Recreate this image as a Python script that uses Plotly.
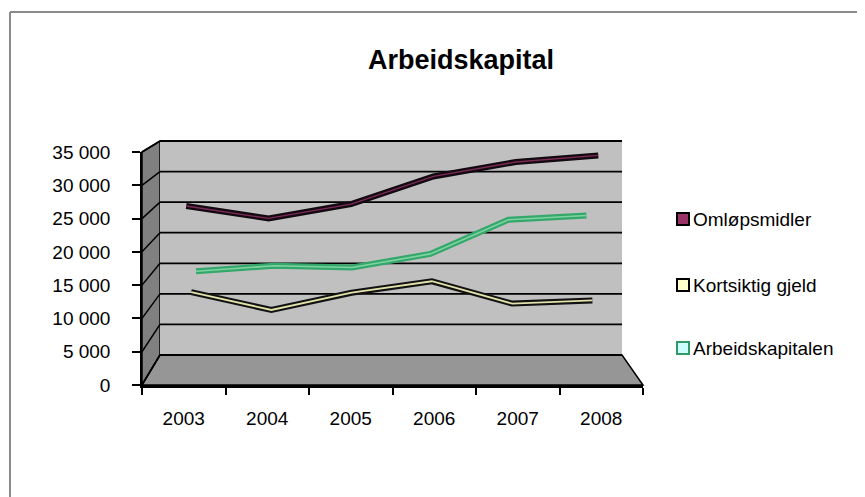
import plotly.graph_objects as go

# ---------------- data ----------------
years = ["2003", "2004", "2005", "2006", "2007", "2008"]
omlopsmidler = [26500, 24600, 26800, 31000, 33200, 34200]
kortsiktig_gjeld = [12200, 9400, 12100, 13900, 10400, 10900]
arbeidskapitalen = [14300, 15200, 14900, 17100, 22600, 23300]
y_ticks = [0, 5000, 10000, 15000, 20000, 25000, 30000, 35000]
series_names = ["Omløpsmidler", "Kortsiktig gjeld", "Arbeidskapitalen"]
title_text = "Arbeidskapital"

# ---------------- geometry of the pseudo-3D frame (screen pixels) ----------------
W, H = 865, 497
OFF = 8  # page body margin that the figure is offset by
FRONT = dict(left=142, right=643, bottom=385, top=152)
BACK = dict(left=160, right=622, bottom=355, top=141)
YMAX = 35000
FONT = "Liberation Sans, Arial, sans-serif"


def px(x):
    return (x - OFF) / W


def py(y):
    return 1 - (y - OFF) / H


def plane(d):
    return {k: FRONT[k] + (BACK[k] - FRONT[k]) * d for k in FRONT}


def P(xc, v, d):
    p = plane(d)
    x = p["left"] + (xc + 0.5) / len(years) * (p["right"] - p["left"])
    y = p["bottom"] - v / YMAX * (p["bottom"] - p["top"])
    return px(x), py(y)


def path(points):
    return "M " + " L ".join(f"{x:.5f},{y:.5f}" for x, y in points) + " Z"


def domains(d):
    p = plane(d)
    return [px(p["left"]), px(p["right"])], [py(p["bottom"]), py(p["top"])]


fig = go.Figure()

# front axis subplot (carries tick labels)
fig.add_trace(go.Scatter(x=years, y=[None] * len(years), mode="lines",
                         showlegend=False, hoverinfo="skip", xaxis="x", yaxis="y"))

# series: (values, depth, outer colour, inner colour, inner width, axis index)
series = [
    (arbeidskapitalen, 5 / 6, "#34a86a", "#7fd3a3", 1.6, 2, series_names[2]),
    (kortsiktig_gjeld, 1 / 2, "#121212", "#e2e2aa", 1.8, 3, series_names[1]),
    (omlopsmidler, 1 / 6, "#120a10", "#7e2b58", 1.3, 4, series_names[0]),
]
for vals, d, outer, inner, iw, idx, name in series:
    fig.add_trace(go.Scatter(x=years, y=vals, mode="lines", name=name,
                             line=dict(color=outer, width=6),
                             showlegend=False, hoverinfo="skip",
                             xaxis=f"x{idx}", yaxis=f"y{idx}"))
    fig.add_trace(go.Scatter(x=years, y=vals, mode="lines", name=name,
                             line=dict(color=inner, width=iw),
                             showlegend=False,
                             xaxis=f"x{idx}", yaxis=f"y{idx}"))
    dx, dy = domains(d)
    fig.layout[f"xaxis{idx}"] = dict(domain=dx, anchor=f"y{idx}", type="category",
                                     range=[-0.5, len(years) - 0.5], visible=False)
    fig.layout[f"yaxis{idx}"] = dict(domain=dy, anchor=f"x{idx}", range=[0, YMAX],
                                     visible=False)

# ---------------- frame shapes ----------------
shapes = []
n = len(years)
# left wall
shapes.append(dict(type="path", xref="paper", yref="paper", layer="below",
                   path=path([P(-0.5, 0, 0), P(-0.5, YMAX, 0), P(-0.5, YMAX, 1), P(-0.5, 0, 1)]),
                   fillcolor="#808080", line=dict(color="#000000", width=1.5)))
# back wall
shapes.append(dict(type="path", xref="paper", yref="paper", layer="below",
                   path=path([P(-0.5, 0, 1), P(n - 0.5, 0, 1), P(n - 0.5, YMAX, 1), P(-0.5, YMAX, 1)]),
                   fillcolor="#c0c0c0", line=dict(width=0)))
# floor
shapes.append(dict(type="path", xref="paper", yref="paper", layer="below",
                   path=path([P(-0.5, 0, 0), P(n - 0.5, 0, 0), P(n - 0.5, 0, 1), P(-0.5, 0, 1)]),
                   fillcolor="#969696", line=dict(color="#000000", width=1.5)))
# gridlines (back wall + left wall diagonals)
for v in y_ticks:
    x0, y0 = P(-0.5, v, 1)
    x1, y1 = P(n - 0.5, v, 1)
    shapes.append(dict(type="line", xref="paper", yref="paper", layer="below",
                       x0=x0, y0=y0, x1=x1, y1=y1, line=dict(color="#000000", width=1.8)))
    xa, ya = P(-0.5, v, 0)
    shapes.append(dict(type="line", xref="paper", yref="paper", layer="below",
                       x0=xa, y0=ya, x1=x0, y1=y0, line=dict(color="#000000", width=1.5)))

# outer chart border
shapes.append(dict(type="line", xref="paper", yref="paper", x0=px(10), x1=1.0,
                   y0=py(12), y1=py(12), line=dict(color="#8a8a8a", width=2)))
shapes.append(dict(type="line", xref="paper", yref="paper", x0=px(10), x1=px(10),
                   y0=0, y1=py(12), line=dict(color="#8a8a8a", width=2)))

# ---------------- legend (custom) ----------------
legend_items = [
    (series_names[0], "#993366", "#000000", 219),
    (series_names[1], "#ffffcc", "#000000", 285),
    (series_names[2], "#ccffff", "#339966", 348),
]
annotations = []
for name, fill, border, yc in legend_items:
    shapes.append(dict(type="rect", xref="paper", yref="paper",
                       x0=px(677), x1=px(689), y0=py(yc + 6), y1=py(yc - 6),
                       fillcolor=fill, line=dict(color=border, width=2)))
    annotations.append(dict(text=name, xref="paper", yref="paper", x=px(691), y=py(yc),
                            xanchor="left", yanchor="middle", showarrow=False,
                            font=dict(family=FONT, size=19, color="#000000")))

annotations.append(dict(text="<b>" + title_text + "</b>", xref="paper", yref="paper",
                        x=px(461), y=py(60), xanchor="center", yanchor="middle",
                        showarrow=False, font=dict(family=FONT, size=27, color="#000000")))

dx0, dy0 = domains(0)
fig.update_layout(
    width=W, height=H,
    margin=dict(l=0, r=0, t=0, b=0),
    paper_bgcolor="#ffffff",
    plot_bgcolor="rgba(0,0,0,0)",
    separators=", ",
    showlegend=False,
    shapes=shapes,
    annotations=annotations,
    xaxis=dict(domain=dx0, anchor="y", type="category", range=[-0.5, n - 0.5],
               showgrid=False, zeroline=False, showline=True, linecolor="#000000",
               linewidth=3, ticks="outside", ticklen=7, tickwidth=1.5,
               tickcolor="#000000", tickson="boundaries", ticklabelstandoff=14,
               tickfont=dict(family=FONT, size=19, color="#000000"),
               automargin=False, fixedrange=True),
    yaxis=dict(domain=dy0, anchor="x", range=[0, YMAX], tickvals=y_ticks,
               tickformat=",d", showgrid=False, zeroline=False, showline=True,
               linecolor="#000000", linewidth=1.5, ticks="outside", ticklen=8,
               tickwidth=1.5, tickcolor="#000000", ticklabelstandoff=18,
               tickfont=dict(family=FONT, size=19, color="#000000"),
               automargin=False, fixedrange=True),
)

fig.write_html("out.html")
